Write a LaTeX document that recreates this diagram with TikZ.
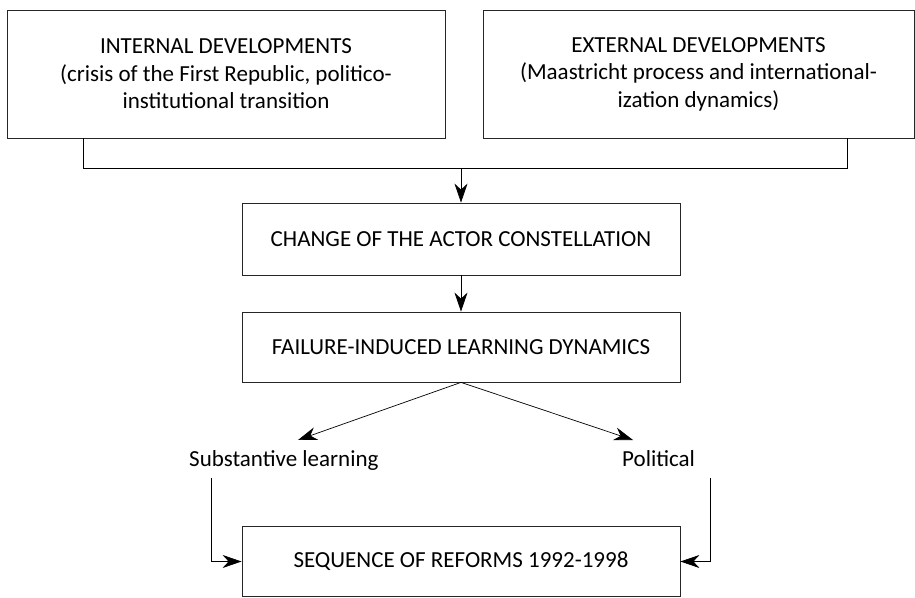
\documentclass[tikz,border=0pt]{standalone}
\usepackage{fontspec}
\setmainfont{Carlito}
\usetikzlibrary{arrows.meta}
\begin{document}
\begin{tikzpicture}[x=1pt,y=1pt,
  box/.style={draw=black!85,line width=0.8pt,align=center,inner sep=0pt,font=\fontsize{23}{27.5}\selectfont},
  lbl/.style={inner sep=0pt,font=\fontsize{23}{27.5}\selectfont},
  conn/.style={line width=0.7pt,-{Stealth[length=19pt,width=13pt,inset=6pt]}},
  plain/.style={line width=0.7pt}]
\useasboundingbox (0,0) rectangle (915,597);
\node[box,minimum width=438,minimum height=128] (int) at (226,523) {INTERNAL DEVELOPMENTS\\(crisis of the First Republic, politico-\\institutional transition};
\node[box,minimum width=431,minimum height=128] (ext) at (698.5,523) {EXTERNAL DEVELOPMENTS\\(Maastricht process and international-\\ization dynamics)};
\node[box,minimum width=438,minimum height=72] (chg) at (461,358) {CHANGE OF THE ACTOR CONSTELLATION};
\node[box,minimum width=438,minimum height=70] (fail) at (461,250) {FAILURE-INDUCED LEARNING DYNAMICS};
\node[box,minimum width=438,minimum height=70] (seq) at (461,35.5) {SEQUENCE OF REFORMS 1992-1998};
\node[lbl,anchor=base west] (sub) at (189,130) {Substantive learning};
\node[lbl,anchor=base west] (pol) at (622,130) {Political};
\coordinate (bl) at (83,429);
\coordinate (br) at (847,429);
\coordinate (bm) at (461,429);
\coordinate (tipS) at (298,157);
\coordinate (tipP) at (633,157);
\coordinate (srcS) at (211,119);
\coordinate (srcP) at (710,119);
\draw[plain] (int.south -| bl) -- (bl) -- (br) -- (ext.south -| br);
\draw[conn] (bm) -- (chg.north);
\draw[conn] (chg.south) -- (fail.north);
\draw[conn] (fail.south) -- (tipS);
\draw[conn] (fail.south) -- (tipP);
\draw[conn] (srcS) |- (seq.west);
\draw[conn] (srcP) |- (seq.east);
\end{tikzpicture}
\end{document}
